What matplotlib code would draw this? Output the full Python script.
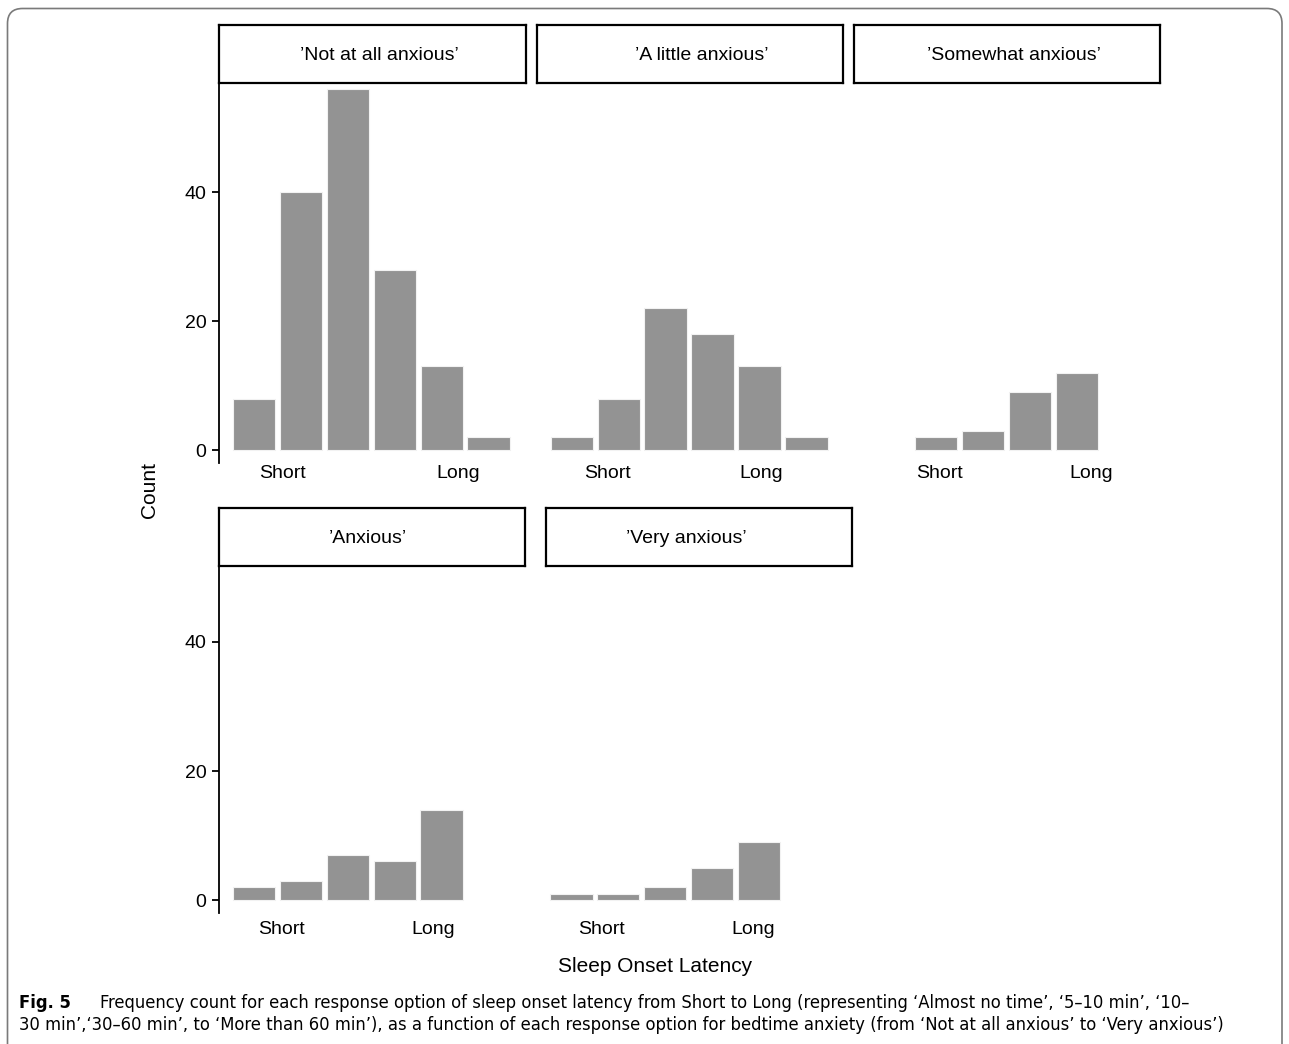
import matplotlib.pyplot as plt
from matplotlib import font_manager
from matplotlib.patches import FancyBboxPatch
from matplotlib.transforms import IdentityTransform

# data: counts for each sleep onset latency option, per anxiety level
panels = ["\u2019Not at all anxious\u2019", "\u2019A little anxious\u2019", "\u2019Somewhat anxious\u2019",
          "\u2019Anxious\u2019", "\u2019Very anxious\u2019"]
not_at_all = [8, 40, 56, 28, 13, 2]
a_little = [2, 8, 22, 18, 13, 2]
somewhat = [2, 3, 9, 12]
anxious = [2, 3, 7, 6, 14]
very = [1, 1, 2, 5, 9]
xtick_labels = ["Short", "Long"]
ytick_values = [0, 20, 40]

W, H = 1289, 1044
BAR = "#939393"

# pick a narrow font for the caption if there is one
fonts = font_manager.fontManager.ttflist
names = {f.name for f in fonts}
cap_kw = {"family": "Roboto"}
if "Liberation Sans Narrow" in names:
    cap_kw = {"family": "Liberation Sans Narrow"}
elif any(f.name == "DejaVu Sans" and f.stretch == "condensed" for f in fonts):
    cap_kw = {"family": "DejaVu Sans", "fontstretch": "condensed"}
elif "Roboto Condensed" in names:
    cap_kw = {"family": "Roboto Condensed"}

plt.rcParams["font.family"] = ["Liberation Sans", "DejaVu Sans"]

fig = plt.figure(figsize=(W / 100, H / 100), dpi=100)


def px_axes(x0, y0, x1, y1, **kw):
    return fig.add_axes([x0 / W, 1 - y1 / H, (x1 - x0) / W, (y1 - y0) / H], **kw)


# layout per panel: axes rect (px), xlim, tick positions, strip rect, title x, row
layout = [
    (not_at_all, (219, 70.4, 525.5, 463.2), (0.245, 6.79), (1.61, 5.35), (219, 25, 525.5, 83), 379.7, 0),
    (a_little, (537, 70.4, 843, 463.2), (0.26, 6.78), (1.77, 5.04), (537, 25, 843, 83), 702, 0),
    (somewhat, (854.3, 70.4, 1160, 463.2), (-0.75, 5.77), (1.07, 4.31), (854.3, 25, 1160, 83), 1014, 0),
    (anxious, (219, 520, 525.3, 913), (0.245, 6.79), (1.59, 4.82), (219, 508.3, 525.3, 566), 367.5, 1),
    (very, (545.7, 520, 852, 913), (0.45, 6.99), (1.64, 4.89), (545.7, 508.3, 852, 566), 686, 1),
]

for i, (vals, rect, xlim, ticks, srect, tx, row) in enumerate(layout):
    ax = px_axes(*rect)
    xs = list(range(1, len(vals) + 1))
    ax.bar(xs, vals, width=0.9, color=BAR, edgecolor="#f2f2f2", linewidth=0.8)
    ax.set_xlim(*xlim)
    ax.set_ylim(-2, 58.9)
    for s in ["top", "right", "bottom"]:
        ax.spines[s].set_visible(False)
    ax.set_xticks(ticks)
    ax.set_xticklabels(xtick_labels, fontsize=14)
    ax.tick_params(axis="x", length=0, pad=1 if row == 0 else 6)
    if i in (0, 3):
        ax.spines["left"].set_linewidth(1.3)
        ax.set_yticks(ytick_values)
        ax.tick_params(axis="y", length=5, width=1.3, labelsize=14, pad=4)
    else:
        ax.spines["left"].set_visible(False)
        ax.set_yticks([])
    ax.patch.set_alpha(0)

    sax = px_axes(*srect)
    sax.set_xticks([])
    sax.set_yticks([])
    for s in sax.spines.values():
        s.set_linewidth(1.6)
    sax.set_facecolor("white")
    sax.text((tx - srect[0]) / (srect[2] - srect[0]), 0.47, panels[i],
             transform=sax.transAxes, ha="center", va="center", fontsize=14)

fig.text(150 / W, 1 - 490 / H, "Count", rotation=90, ha="center", va="center", fontsize=15)
fig.text(655 / W, 1 - 966 / H, "Sleep Onset Latency", ha="center", va="center", fontsize=15)

# caption
line1 = ("Frequency count for each response option of sleep onset latency from Short to Long "
         "(representing \u2018Almost no time\u2019, \u20185\u201310 min\u2019, \u201810\u2013")
line2 = ("30 min\u2019,\u201830\u201360 min\u2019, to \u2018More than 60 min\u2019), as a function of each "
         "response option for bedtime anxiety (from \u2018Not at all anxious\u2019 to \u2018Very anxious\u2019)")
fig_lbl = fig.text(19 / W, 1 - 1003 / H, "Fig. 5", fontweight="bold",
                   fontsize=12, va="center", ha="left", **cap_kw)
t1 = fig.text(100 / W, 1 - 1003 / H, line1, fontsize=12, va="center", ha="left", **cap_kw)
t2 = fig.text(19 / W, 1 - 1025 / H, line2, fontsize=12, va="center", ha="left", **cap_kw)

# fit caption size to the width it takes in the reference
renderer = fig.canvas.get_renderer()
w2 = t2.get_window_extent(renderer).width
size = min(13.5, 12 * 1200 / w2)
for t in (fig_lbl, t1, t2):
    t.set_fontsize(size)

# rounded frame, open at the bottom
frame = FancyBboxPatch((7.5, -40), 1274.5, H - 8.5 + 40,
                       boxstyle="round,pad=0,rounding_size=15",
                       transform=IdentityTransform(), fill=False,
                       edgecolor="#7a7a7a", linewidth=1.2)
fig.add_artist(frame)

fig.savefig("out.png", dpi=100)
